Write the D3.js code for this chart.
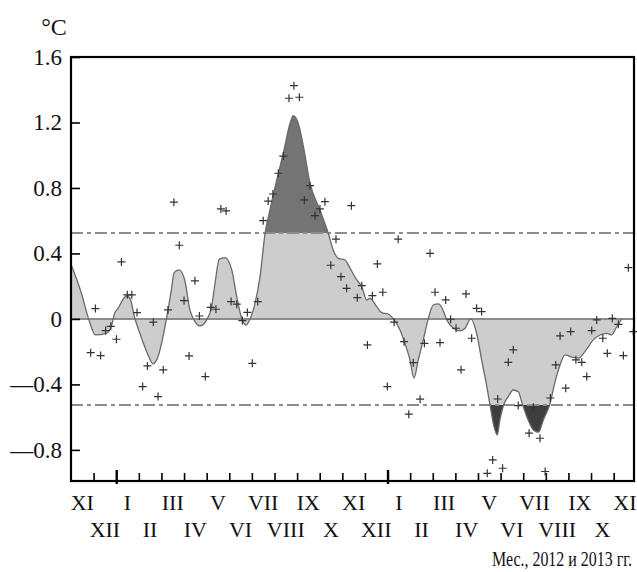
<!doctype html>
<html lang="ru">
<head>
<meta charset="utf-8">
<script src="https://cdn.jsdelivr.net/npm/d3@7"></script>
<style>
  body { margin: 0; background: #fff; }
  text { font-family: "Liberation Serif", "Times New Roman", serif; fill: #111; }
</style>
</head>
<body>
<svg id="chart" width="637" height="572"></svg>
<script>
// month labels, Nov 2011 .. Nov 2013
var months = ["XI","XII","I","II","III","IV","V","VI","VII","VIII","IX","X",
              "XI","XII","I","II","III","IV","V","VI","VII","VIII","IX","X","XI"];
var yTicks = [-0.8, -0.4, 0, 0.4, 0.8, 1.2, 1.6];
var threshold = 0.525;

// smoothed curve: months since 1 Nov 2011, anomaly in °C
var curveMonth = [0.00,0.46,0.78,1.08,1.56,1.78,1.93,2.08,2.45,2.60,2.82,3.04,3.41,3.63,3.85,4.07,4.22,4.44,4.56,4.78,
  5.03,5.26,5.48,5.71,6.00,6.22,6.37,6.56,6.81,7.11,7.33,7.55,7.74,7.92,8.14,8.36,8.58,8.80,9.10,9.39,
  9.69,9.83,10.05,10.27,10.57,11.01,11.38,11.60,11.82,12.12,12.34,12.64,12.86,13.08,13.22,13.52,13.74,14.03,14.26,14.55,
  14.77,14.99,15.17,15.36,15.58,15.80,16.02,16.25,16.40,16.62,16.91,17.21,17.43,17.68,17.94,18.16,18.39,18.53,18.71,18.85,
  18.97,19.15,19.34,19.56,19.78,19.93,20.16,20.45,20.67,20.89,21.19,21.41,21.63,21.85,22.15,22.44,22.73,23.10,23.40,23.69,
  23.91,24.10,24.36];
var curveValue = [0.334,0.157,0.0,-0.098,-0.088,-0.047,0.035,0.065,0.14,0.128,0.006,-0.086,-0.22,-0.275,-0.23,-0.108,0.0,0.177,0.283,0.30,
  0.238,0.055,-0.016,-0.043,-0.006,0.075,0.218,0.365,0.375,0.30,0.136,0.004,-0.037,0.0,0.096,0.258,0.52,0.666,0.849,1.012,
  1.195,1.242,1.195,1.06,0.829,0.666,0.523,0.42,0.37,0.36,0.31,0.238,0.197,0.116,0.126,0.075,0.039,0.03,0.0,-0.067,
  -0.15,-0.25,-0.362,-0.25,-0.128,0.0,0.085,0.092,0.07,-0.006,-0.057,-0.073,-0.057,0.0,-0.088,-0.25,-0.413,-0.525,-0.658,-0.708,
  -0.617,-0.52,-0.474,-0.434,-0.444,-0.505,-0.597,-0.678,-0.692,-0.617,-0.515,-0.383,-0.281,-0.22,-0.234,-0.24,-0.2,-0.128,-0.098,-0.088,
  -0.098,-0.057,0.0];

// weekly values
var pointMonth = [0.87,1.08,1.31,1.53,1.76,2.01,2.23,2.49,2.69,2.92,3.17,3.38,3.64,3.85,4.08,4.29,4.55,4.79,5.00,5.22,
  5.48,5.68,5.94,6.18,6.41,6.63,6.86,7.08,7.33,7.58,7.80,8.02,8.26,8.50,8.72,8.93,9.17,9.39,9.64,9.86,
  10.10,10.32,10.57,10.79,11.01,11.23,11.49,11.72,11.94,12.19,12.40,12.66,12.86,13.11,13.33,13.55,13.79,13.99,14.29,14.47,
  14.73,14.94,15.14,15.44,15.63,15.88,16.10,16.32,16.57,16.79,17.03,17.25,17.47,17.72,17.94,18.16,18.41,18.65,18.87,19.09,
  19.34,19.56,19.78,20.26,20.45,20.74,20.97,21.20,21.44,21.63,21.88,22.10,22.33,22.59,22.81,23.03,23.25,23.52,23.72,23.94,
  24.21,24.43,24.65,24.87];
var pointValue = [-0.206,0.063,-0.224,-0.071,-0.045,-0.124,0.348,0.147,0.147,0.039,-0.413,-0.287,-0.02,-0.474,-0.311,0.055,0.713,0.45,0.112,-0.226,
  0.233,0.018,-0.352,0.071,0.059,0.672,0.66,0.106,0.09,-0.01,0.04,-0.271,0.106,0.60,0.72,0.763,0.89,0.995,1.348,1.425,
  1.354,0.727,0.814,0.631,0.672,0.716,0.328,0.487,0.258,0.187,0.692,0.13,0.203,-0.159,0.142,0.336,0.163,-0.413,-0.02,0.487,
  -0.139,-0.582,-0.267,-0.49,-0.149,0.401,0.163,-0.145,0.116,-0.002,-0.057,-0.311,0.153,-0.118,0.065,0.045,-0.943,-0.861,-0.489,-0.912,
  -0.265,-0.189,-0.529,-0.698,-0.539,-0.729,-0.932,-0.483,-0.281,-0.104,-0.423,-0.077,-0.25,-0.265,-0.352,-0.071,-0.006,-0.118,-0.21,0.004,
  -0.033,-0.224,0.313,-0.077];

var svg = d3.select("#chart");
var x = d3.scaleLinear().domain([0, 24.9]).range([71, 634]);
var y = d3.scaleLinear().domain([-0.99, 1.6]).range([481, 57]);

var curve = curveMonth.map(function(m, i) { return [m, curveValue[i]]; });
var points = pointMonth.map(function(m, i) { return [m, pointValue[i]]; });

// clip regions for the parts beyond the thresholds
var defs = svg.append("defs");
defs.append("clipPath").attr("id", "clipHigh").append("rect")
    .attr("x", 71).attr("y", 57).attr("width", 563).attr("height", y(threshold) - 57);
defs.append("clipPath").attr("id", "clipLow").append("rect")
    .attr("x", 71).attr("y", y(-threshold)).attr("width", 563).attr("height", 481 - y(-threshold));

var area = d3.area()
    .x(function(d) { return x(d[0]); })
    .y0(y(0))
    .y1(function(d) { return y(d[1]); })
    .curve(d3.curveMonotoneX);
var line = d3.line()
    .x(function(d) { return x(d[0]); })
    .y(function(d) { return y(d[1]); })
    .curve(d3.curveMonotoneX);

svg.append("path").datum(curve).attr("d", area).attr("fill", "#cdcdcd");
svg.append("path").datum(curve).attr("d", area).attr("fill", "#747474").attr("clip-path", "url(#clipHigh)");
svg.append("path").datum(curve).attr("d", area).attr("fill", "#3e3e3e").attr("clip-path", "url(#clipLow)");

// zero line and threshold lines
svg.append("line")
    .attr("x1", 71).attr("x2", 634).attr("y1", y(0)).attr("y2", y(0))
    .attr("stroke", "#8c8c8c").attr("stroke-width", 2);
[threshold, -threshold].forEach(function(t) {
  svg.append("line")
      .attr("x1", 71).attr("x2", 634).attr("y1", y(t)).attr("y2", y(t))
      .attr("stroke", "#8c8c8c").attr("stroke-width", 2)
      .attr("stroke-dasharray", "12,4,4,4");
});

svg.append("path").datum(curve).attr("d", line)
    .attr("fill", "none").attr("stroke", "#6a6a6a").attr("stroke-width", 1.3);

// plus markers
svg.append("g").selectAll("path")
    .data(points)
    .enter()
    .append("path")
      .attr("d", function(d) {
        var cx = x(d[0]), cy = y(d[1]);
        return "M" + (cx - 4) + "," + cy + "H" + (cx + 4) + "M" + cx + "," + (cy - 4) + "V" + (cy + 4);
      })
      .attr("stroke", "#333").attr("stroke-width", 1.2);

// axes
var yAxis = svg.append("g")
    .attr("transform", "translate(71,0)")
    .call(d3.axisLeft(y).tickValues(yTicks).tickSize(-9).tickPadding(9)
      .tickFormat(function(d) {
        if (d === 0) return "0";
        return (d < 0 ? "\u2014" : "") + d3.format(".1f")(Math.abs(d));
      }));
yAxis.attr("font-family", null).attr("font-size", null);
yAxis.select(".domain").remove();
yAxis.selectAll(".tick line").attr("stroke", "#000").attr("stroke-width", 1.6);
yAxis.selectAll(".tick text")
    .style("font-family", "'Liberation Serif', serif")
    .style("font-size", "23px").attr("fill", "#111");

var xAxis = svg.append("g")
    .attr("transform", "translate(0,481)")
    .call(d3.axisBottom(x).tickValues(d3.range(1, 25)).tickSize(-8).tickFormat(""));
xAxis.select(".domain").remove();
xAxis.selectAll(".tick line")
    .attr("stroke", "#000")
    .attr("stroke-width", function(d) { return d === 2 || d === 14 ? 2.4 : 1.6; })
    .attr("y1", function(d) { return d === 2 || d === 14 ? 3 : 0; })
    .attr("y2", function(d) { return d === 2 || d === 14 ? -11 : -8; });

// frame
svg.append("rect")
    .attr("x", 71).attr("y", 57).attr("width", 563).attr("height", 424)
    .attr("fill", "none").attr("stroke", "#000").attr("stroke-width", 2.2);

// month labels in two rows
svg.append("g").selectAll("text")
    .data(months)
    .enter()
    .append("text")
      .attr("x", function(d, i) { return x(i + 0.5); })
      .attr("y", function(d, i) { return i % 2 === 0 ? 510 : 537; })
      .attr("text-anchor", "middle")
      .style("font-size", "22px")
      .text(function(d) { return d; });

svg.append("text")
    .attr("transform", "translate(632,566) scale(0.76,1)")
    .attr("text-anchor", "end")
    .style("font-size", "21px")
    .text("Мес., 2012 и 2013 гг.");

svg.append("text")
    .attr("x", 54).attr("y", 35)
    .attr("text-anchor", "middle")
    .style("font-size", "24px")
    .text("°C");
</script>
</body>
</html>
